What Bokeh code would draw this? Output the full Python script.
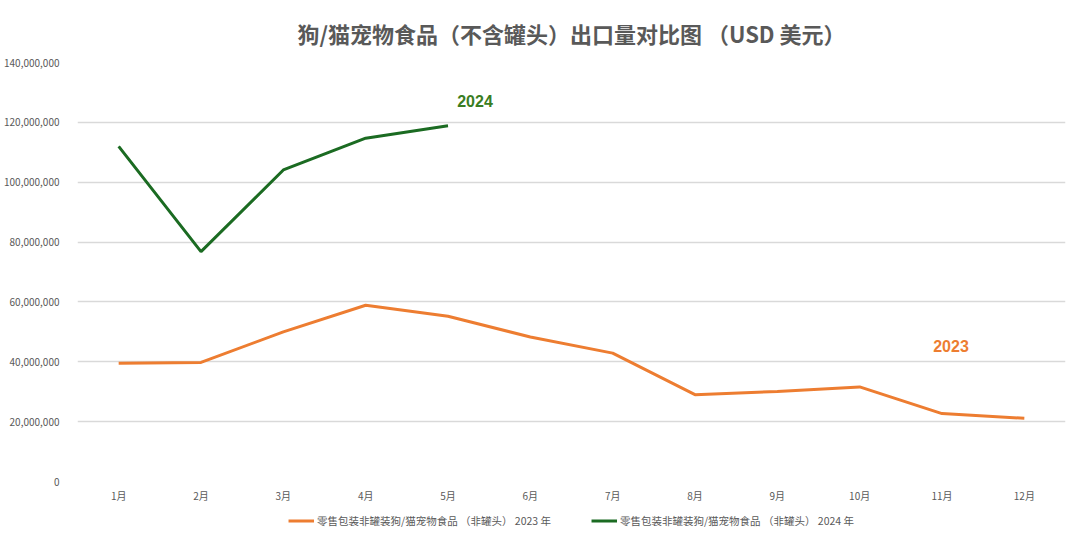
from bokeh.plotting import figure
from bokeh.layouts import column
from bokeh.models import ColumnDataSource, NumeralTickFormatter, Legend, LegendItem, FixedTicker
from bokeh.core.properties import value
from bokeh.embed import file_html
from bokeh.resources import INLINE

months = ["1月", "2月", "3月", "4月", "5月", "6月", "7月", "8月", "9月", "10月", "11月", "12月"]
values_2023 = [39.5e6, 39.8e6, 50.0e6, 58.9e6, 55.2e6, 48.3e6, 42.9e6, 29.0e6, 30.1e6, 31.6e6, 22.7e6, 21.1e6]
months_2024 = ["1月", "2月", "3月", "4月", "5月"]
values_2024 = [112.0e6, 76.8e6, 104.1e6, 114.7e6, 118.9e6]
y_ticks = [0, 20e6, 40e6, 60e6, 80e6, 100e6, 120e6, 140e6]

title_text = "狗/猫宠物食品（不含罐头）出口量对比图 （USD 美元）"
legend_2023 = "零售包装非罐装狗/猫宠物食品 （非罐头） 2023 年"
legend_2024 = "零售包装非罐装狗/猫宠物食品 （非罐头） 2024 年"

ORANGE = "#ED7D31"
GREEN = "#1B6B22"
GREEN_LABEL = "#3A7D22"
GREY = "#595959"
FONT = "Noto Sans CJK SC"

p = figure(x_range=months, y_range=(0, 140e6), frame_width=988, frame_height=419,
           output_backend="svg", toolbar_location=None,
           min_border_left=69, min_border_right=7, min_border_top=61, min_border_bottom=0)
p.outline_line_color = None

p.title.text = title_text
p.title.align = "center"
p.title.text_font = FONT
p.title.text_font_size = "22px"
p.title.text_font_style = "bold"
p.title.text_color = GREY
p.title.standoff = 28

src23 = ColumnDataSource(dict(x=months, y=values_2023))
src24 = ColumnDataSource(dict(x=months_2024, y=values_2024))
r23 = p.line("x", "y", source=src23, line_color=ORANGE, line_width=3)
r24 = p.line("x", "y", source=src24, line_color=GREEN, line_width=3)

# series labels
p.text(x=["5月"], y=[127e6], text=["2024"], x_offset=27, text_align="center", text_baseline="middle",
       text_font=value("Liberation Sans"), text_font_size="16px", text_font_style="bold", text_color=GREEN_LABEL)
p.text(x=["11月"], y=[45.2e6], text=["2023"], x_offset=9, text_align="center", text_baseline="middle",
       text_font=value("Liberation Sans"), text_font_size="16px", text_font_style="bold", text_color=ORANGE)

p.yaxis.ticker = FixedTicker(ticks=y_ticks)
p.yaxis.formatter = NumeralTickFormatter(format="0,0")
for ax in (p.xaxis, p.yaxis):
    ax.axis_label = None
    ax.axis_line_color = None
    ax.major_tick_line_color = None
    ax.minor_tick_line_color = None
    ax.major_label_text_font = FONT
    ax.major_label_text_font_size = "10px"
    ax.major_label_text_color = GREY
p.yaxis.major_label_standoff = 12
p.xaxis.major_label_standoff = 0

p.xgrid.grid_line_color = None
p.ygrid.ticker = FixedTicker(ticks=y_ticks)
p.ygrid.grid_line_color = "#D9D9D9"
p.ygrid.grid_line_width = 1.5

# legend strip below the chart (same series styles, reusing the series sources)
lg = figure(x_range=months, frame_width=988, frame_height=30, output_backend="svg", toolbar_location=None,
            x_axis_type=None, y_axis_type=None,
            min_border_left=77, min_border_right=7, min_border_top=0, min_border_bottom=0)
lg.outline_line_color = None
lg.xgrid.grid_line_color = None
lg.ygrid.grid_line_color = None
lg.y_range.start = 1e9
lg.y_range.end = 2e9
l23 = lg.line("x", "y", source=src23, line_color=ORANGE, line_width=3)
l24 = lg.line("x", "y", source=src24, line_color=GREEN, line_width=3)
legend = Legend(items=[LegendItem(label=legend_2023, renderers=[l23]),
                       LegendItem(label=legend_2024, renderers=[l24])],
                orientation="horizontal", location="center",
                label_text_font=FONT, label_text_font_size="10.5px", label_text_color=GREY,
                glyph_width=26, glyph_height=10, spacing=40, padding=2, margin=0,
                border_line_color=None, background_fill_alpha=0, label_standoff=3)
lg.add_layout(legend)

open("out.html", "w").write(file_html(column(p, lg), INLINE))
